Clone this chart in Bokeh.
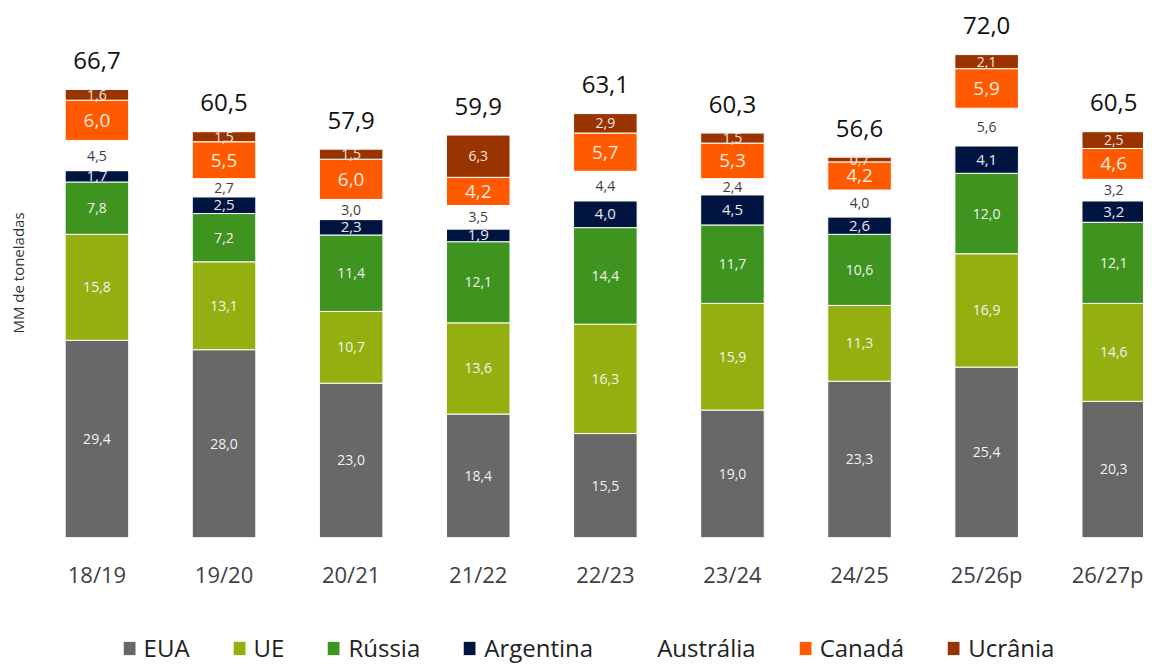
from bokeh.plotting import figure
from bokeh.layouts import column
from bokeh.models import ColumnDataSource, Range1d, FixedTicker, Legend, LegendItem, Title
from bokeh.core.properties import value
from bokeh.embed import file_html
from bokeh.resources import INLINE

safras = ["18/19", "19/20", "20/21", "21/22", "22/23", "23/24", "24/25", "25/26p", "26/27p"]
eua = [29.4, 28.0, 23.0, 18.4, 15.5, 19.0, 23.3, 25.4, 20.3]
ue = [15.8, 13.1, 10.7, 13.6, 16.3, 15.9, 11.3, 16.9, 14.6]
russia = [7.8, 7.2, 11.4, 12.1, 14.4, 11.7, 10.6, 12.0, 12.1]
argentina = [1.7, 2.5, 2.3, 1.9, 4.0, 4.5, 2.6, 4.1, 3.2]
australia = [4.5, 2.7, 3.0, 3.5, 4.4, 2.4, 4.0, 5.6, 3.2]
canada = [6.0, 5.5, 6.0, 4.2, 5.7, 5.3, 4.2, 5.9, 4.6]
ucrania = [1.6, 1.5, 1.5, 6.3, 2.9, 1.5, 0.7, 2.1, 2.5]
totais = [66.7, 60.5, 57.9, 59.9, 63.1, 60.3, 56.6, 72.0, 60.5]

series = ["EUA", "UE", "Rússia", "Argentina", "Austrália", "Canadá", "Ucrânia"]
valores = [eua, ue, russia, argentina, australia, canada, ucrania]
cores = ["#686868", "#94b010", "#3f941f", "#001442", "#ffffff", "#ff5a00", "#993300"]
label_cores = ["#f2f2f2", "#f2f2f2", "#f2f2f2", "#e8e8ee", "#3a3a48", "#fbe9e0", "#f2e6e0"]
label_sizes = ["14px", "14px", "14px", "15px", "14px", "19px", "14px"]

FONT = "Open Sans"
xs = list(range(len(safras)))

data = {"x": xs}
for name, vals in zip(series, valores):
    data[name] = vals
src = ColumnDataSource(data)

# ---- main chart ----
p = figure(width=1143, height=607, output_backend="svg", toolbar_location=None,
           x_range=Range1d(-0.507, 8.234), y_range=Range1d(0, 78.87),
           min_border_left=22, min_border_right=0, min_border_top=8, min_border_bottom=70)
p.outline_line_color = None
p.grid.visible = False
p.background_fill_color = "white"
p.border_fill_color = "white"

p.vbar_stack(series, x="x", width=0.5, source=src, color=cores,
             line_color="white", line_width=1)

cum = [0.0] * len(safras)
for name, vals, lc, ls in zip(series, valores, label_cores, label_sizes):
    mids = [c + v / 2 for c, v in zip(cum, vals)]
    cum = [c + v for c, v in zip(cum, vals)]
    texts = [f"{v:.1f}".replace(".", ",") for v in vals]
    p.text(x=xs, y=mids, text=texts, text_align="center", text_baseline="middle",
           text_font=value(FONT), text_font_size=ls, text_color=lc)

p.text(x=xs, y=cum, text=[f"{t:.1f}".replace(".", ",") for t in totais],
       text_align="center", text_baseline="middle", y_offset=-29,
       text_font=value(FONT), text_font_size="24px", text_color="#111111")

p.yaxis.visible = False
p.add_layout(Title(text="MM de toneladas", align="center", text_font=FONT,
                   text_font_size="15px", text_font_style="normal", text_color="#333333"), "left")

xa = p.xaxis[0]
xa.ticker = FixedTicker(ticks=xs)
xa.major_label_overrides = {i: s for i, s in enumerate(safras)}
xa.axis_line_color = None
xa.major_tick_line_color = None
xa.minor_tick_line_color = None
xa.major_tick_out = 0
xa.major_tick_in = 0
xa.major_label_standoff = 21
xa.major_label_text_font = FONT
xa.major_label_text_font_size = "22px"
xa.major_label_text_color = "#404048"

# ---- legend strip (its bars sit below the visible range) ----
lg = figure(width=1143, height=57, output_backend="svg", toolbar_location=None,
            x_range=Range1d(-0.507, 8.234), y_range=Range1d(500, 501),
            x_axis_location=None, y_axis_location=None,
            min_border_left=0, min_border_right=0, min_border_top=0, min_border_bottom=0)
lg.outline_line_color = None
lg.grid.visible = False
lg.background_fill_color = "white"
lg.border_fill_color = "white"
rs = lg.vbar_stack(series, x="x", width=0.5, source=src, color=cores,
                   line_color="white", line_width=1)
items = [LegendItem(label=n, renderers=[r]) for n, r in zip(series, rs)]
legend = Legend(items=items, orientation="horizontal", location="bottom_center",
                label_text_font=FONT, label_text_font_size="24px", label_text_color="#222222",
                glyph_width=16, glyph_height=18, spacing=41, label_standoff=7,
                border_line_color=None, background_fill_alpha=0, padding=0, margin=0)
lg.add_layout(legend, "center")

layout = column(p, lg, spacing=0)
open("out.html", "w").write(file_html(layout, INLINE))
